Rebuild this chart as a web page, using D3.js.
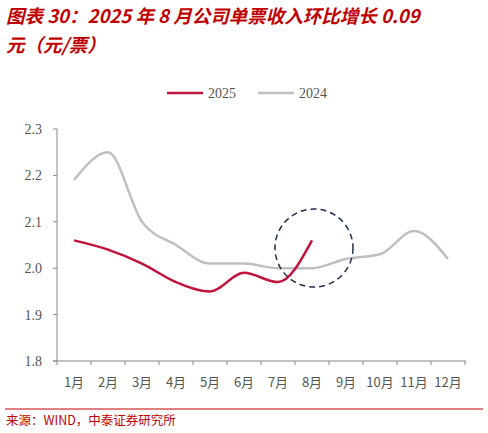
<!DOCTYPE html><html><head><meta charset="utf-8"><script src="https://cdn.jsdelivr.net/npm/d3@7"></script>
<style>body{margin:0;background:#fff}</style></head><body><svg id="c" width="488" height="433"></svg><script>
const months=["1月","2月","3月","4月","5月","6月","7月","8月","9月","10月","11月","12月"];
const s2025=[2.06,2.04,2.01,1.97,1.95,1.99,1.97,2.06];
const s2024=[2.19,2.25,2.10,2.05,2.01,2.01,2.00,2.00,2.02,2.03,2.08,2.02];
const yTicks=[1.8,1.9,2.0,2.1,2.2,2.3];
const svg=d3.select("#c");
const f="'Noto Sans CJK SC',sans-serif";
svg.append("text").attr("x",6).attr("y",23).attr("fill","#c00000").attr("font-family",f).attr("font-size",18.5).attr("font-weight","bold").attr("font-style","italic").text("图表 30：2025 年 8 月公司单票收入环比增长 0.09");
svg.append("text").attr("x",6).attr("y",52).attr("fill","#c00000").attr("font-family",f).attr("font-size",18.5).attr("font-weight","bold").attr("font-style","italic").text("元（元/票）");
const x=d3.scaleBand().domain(months).range([57,465]);
const y=d3.scaleLinear().domain([1.8,2.3]).range([361,129]);
const g=svg.append("g").attr("font-family","'Liberation Serif',serif").attr("font-size",14).attr("fill","#555");
yTicks.forEach(t=>{g.append("text").attr("x",42).attr("y",y(t)+5).attr("text-anchor","end").text(t.toFixed(1));});
svg.append("line").attr("x1",57).attr("x2",57).attr("y1",129).attr("y2",361).attr("stroke","#888");
svg.append("line").attr("x1",53).attr("x2",466).attr("y1",361).attr("y2",361).attr("stroke","#888");
yTicks.forEach(t=>svg.append("line").attr("x1",53).attr("x2",57).attr("y1",y(t)).attr("y2",y(t)).attr("stroke","#888"));
d3.range(13).forEach(i=>{const xx=57+i*x.step();svg.append("line").attr("x1",xx).attr("x2",xx).attr("y1",361).attr("y2",365).attr("stroke","#888");});
months.forEach(m=>g.append("text").attr("x",x(m)+x.bandwidth()/2).attr("y",387).attr("text-anchor","middle").attr("font-family","'Noto Sans CJK SC',serif").attr("font-size",13).text(m));
const line=d3.line().x((d,i)=>x(months[i])+x.bandwidth()/2).y(d=>y(d)).curve(d3.curveMonotoneX);
svg.append("path").attr("d",line(s2024)).attr("fill","none").attr("stroke","#bfbfbf").attr("stroke-width",2.5);
svg.append("path").attr("d",line(s2025)).attr("fill","none").attr("stroke","#c0143c").attr("stroke-width",2.5);
svg.append("circle").attr("cx",314).attr("cy",248).attr("r",39).attr("fill","none").attr("stroke","#1f2f4f").attr("stroke-width",1.5).attr("stroke-dasharray","6,4");
svg.append("line").attr("x1",167).attr("x2",203).attr("y1",93).attr("y2",93).attr("stroke","#c0143c").attr("stroke-width",2.5);
svg.append("text").attr("x",208).attr("y",98).attr("font-family","'Liberation Serif',serif").attr("font-size",14).attr("fill","#555").text("2025");
svg.append("line").attr("x1",258).attr("x2",294).attr("y1",93).attr("y2",93).attr("stroke","#bfbfbf").attr("stroke-width",2.5);
svg.append("text").attr("x",299).attr("y",98).attr("font-family","'Liberation Serif',serif").attr("font-size",14).attr("fill","#555").text("2024");
svg.append("line").attr("x1",5).attr("x2",483).attr("y1",409).attr("y2",409).attr("stroke","#c00000").attr("stroke-width",1);
svg.append("text").attr("x",6).attr("y",425).attr("font-family",f).attr("font-size",12.5).attr("fill","#c00000").text("来源：WIND，中泰证券研究所");
</script></body></html>
